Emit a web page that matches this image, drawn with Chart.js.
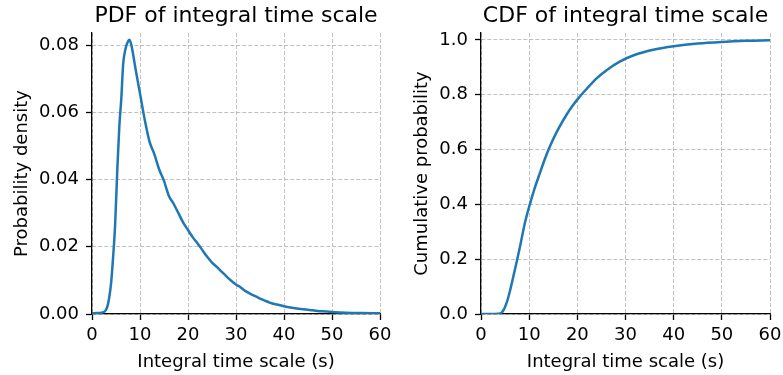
<!DOCTYPE html>
<html>
<head>
<meta charset="utf-8">
<script src="https://cdn.jsdelivr.net/npm/chart.js@4/dist/chart.umd.min.js"></script>
<style>
  body { margin: 0; background: #fff; overflow: hidden; }
  #wrap { position: relative; width: 783px; height: 375px; overflow: hidden; }
  canvas { position: absolute; top: 0; }
</style>
</head>
<body>
<div id="wrap">
  <canvas id="pdfChart" width="400" height="375" style="left:0"></canvas>
  <canvas id="cdfChart" width="390" height="375" style="left:400px"></canvas>
</div>
<script>
// PDF curve
const pdfX = [0, 1, 2, 2.7, 3.2, 3.6, 4.0, 4.4, 4.8, 5.3, 5.7, 6.1, 6.5, 7.0, 7.4, 7.8, 8.2, 8.6, 9.0, 9.5,
  10, 11, 12, 13, 14, 15, 16, 17, 18, 19, 20, 21, 22, 23, 24, 25, 26, 27, 28, 29,
  30, 31, 32, 33, 34, 35, 36, 37, 38, 39, 40, 42, 44, 46, 48, 50, 53, 56, 60];
const pdfY = [0.0002, 0.0003, 0.0004, 0.0008, 0.0022, 0.0050, 0.0095, 0.0170, 0.0260, 0.0440, 0.0560, 0.0640, 0.0745, 0.0790, 0.0808, 0.0816, 0.0800, 0.0770, 0.0735, 0.0695,
  0.0656, 0.0577, 0.0512, 0.0475, 0.0430, 0.0396, 0.0352, 0.0328, 0.0300, 0.0272, 0.0250, 0.0228, 0.0210, 0.0190, 0.0170, 0.0153, 0.0140, 0.0126, 0.0112, 0.0099,
  0.0088, 0.0079, 0.0068, 0.0060, 0.0053, 0.0046, 0.0040, 0.0034, 0.0030, 0.0027, 0.0023, 0.0018, 0.0014, 0.0011, 0.0008, 0.0006, 0.0004, 0.0003, 0.0002];

// CDF curve
const cdfX = [0, 3, 4, 4.6, 5.2, 5.7, 6.2, 6.7, 7.4, 8.1, 9.1, 10.2, 11.2, 12.2, 13.2, 14.3, 15.6, 17.1, 18.6, 20.2,
  22, 24, 26, 28.8, 32, 36, 40, 45, 50, 55, 60];
const cdfY = [0, 0, 0.002, 0.012, 0.035, 0.063, 0.098, 0.136, 0.190, 0.246, 0.331, 0.404, 0.462, 0.513, 0.563, 0.611, 0.660, 0.708, 0.750, 0.787,
  0.823, 0.860, 0.889, 0.921, 0.946, 0.965, 0.977, 0.987, 0.993, 0.997, 0.999];

const xTicks = [0, 10, 20, 30, 40, 50, 60];
const pdfYTicks = [0, 0.02, 0.04, 0.06, 0.08];
const cdfYTicks = [0, 0.2, 0.4, 0.6, 0.8, 1.0];

Chart.defaults.font.family = 'DejaVu Sans';
Chart.defaults.color = '#000';

function makeChart(id, opts) {
    const pts = opts.xs.map((x, i) => ({ x: x, y: opts.ys[i] }));
    const gridCommon = {
        color: '#b0b0b0',
        lineWidth: 0.8,
        tickColor: '#000',
        tickWidth: 1.3,
        tickLength: 6
    };
    const borderCommon = { color: '#000', width: 1.3, dash: [4, 2] };

    return new Chart(document.getElementById(id), {
        type: 'line',
        data: {
            datasets: [{
                data: pts,
                borderColor: '#1f77b4',
                borderWidth: 2.5,
                pointRadius: 0,
                fill: false,
                cubicInterpolationMode: 'monotone'
            }]
        },
        options: {
            responsive: false,
            animation: false,
            devicePixelRatio: 1,
            layout: { padding: { left: 0, right: opts.padRight, top: 0, bottom: 0 } },
            plugins: {
                legend: { display: false },
                tooltip: { enabled: false },
                title: {
                    display: true,
                    fullSize: false,
                    text: opts.title,
                    font: { size: 22, weight: 'normal' },
                    padding: { top: 3, bottom: 3.6 }
                }
            },
            scales: {
                x: {
                    type: 'linear',
                    min: 0,
                    max: 60,
                    afterBuildTicks: s => { s.ticks = xTicks.map(v => ({ value: v })); },
                    afterFit: s => { s.height = 61; },
                    ticks: { font: { size: 18 }, padding: 5, maxRotation: 0 },
                    grid: gridCommon,
                    border: borderCommon,
                    title: {
                        display: true,
                        text: 'Integral time scale (s)',
                        font: { size: 18 },
                        padding: { top: 0, bottom: 2 }
                    }
                },
                y: {
                    type: 'linear',
                    min: 0,
                    max: opts.yMax,
                    afterBuildTicks: s => { s.ticks = opts.yTicks.map(v => ({ value: v })); },
                    afterFit: s => { s.width = opts.yWidth; },
                    ticks: {
                        font: { size: 18 },
                        padding: 7,
                        callback: v => v.toFixed(opts.digits)
                    },
                    grid: gridCommon,
                    border: borderCommon,
                    title: {
                        display: true,
                        text: opts.yTitle,
                        font: { size: 18 },
                        padding: { top: 12, bottom: 0 }
                    }
                }
            }
        }
    });
}

makeChart('pdfChart', {
    xs: pdfX, ys: pdfY,
    title: 'PDF of integral time scale',
    yTitle: 'Probability density',
    yTicks: pdfYTicks, yMax: 0.0836, digits: 2,
    yWidth: 92, padRight: 20
});

makeChart('cdfChart', {
    xs: cdfX, ys: cdfY,
    title: 'CDF of integral time scale',
    yTitle: 'Cumulative probability',
    yTicks: cdfYTicks, yMax: 1.0255, digits: 1,
    yWidth: 81, padRight: 20
});
</script>
</body>
</html>
